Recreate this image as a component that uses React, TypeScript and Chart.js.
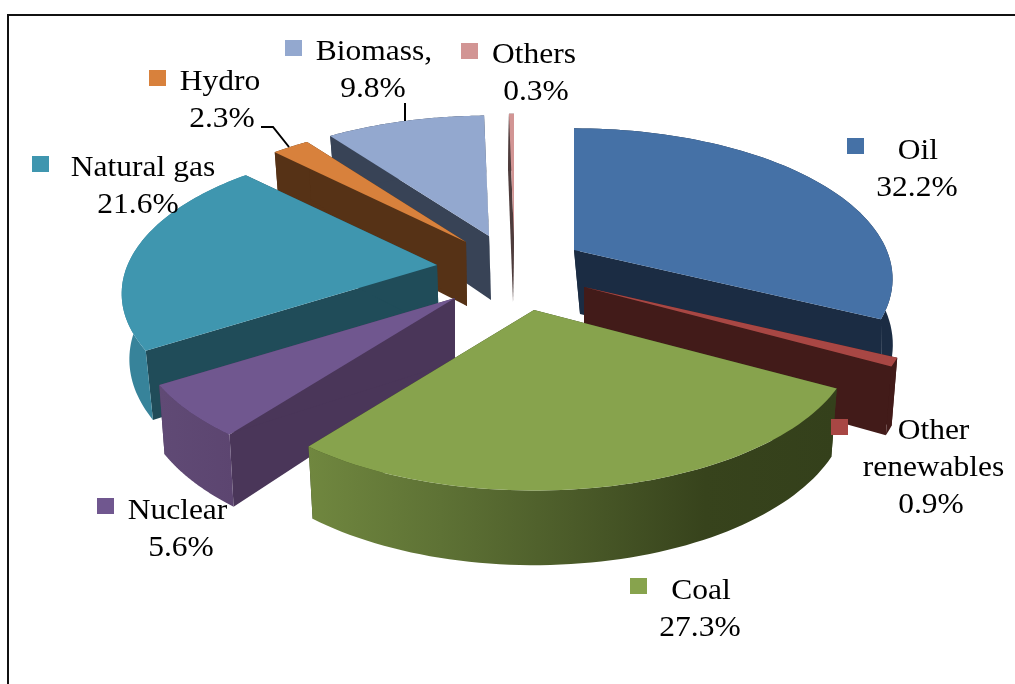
import React, { useEffect, useRef } from "react";
import { Chart, registerables } from "chart.js";

Chart.register(...registerables);

// Primary energy mix, share of total in percent.
const categories = ["Oil", "Other renewables", "Coal", "Nuclear", "Natural gas", "Hydro", "Biomass,", "Others"];
const shares = [32.2, 0.9, 27.3, 5.6, 21.6, 2.3, 9.8, 0.3];

// Face colours of each slice.
const topColors = ["#4571A6", "#A84744", "#87A34D", "#70578F", "#3F96AF", "#D8813C", "#93A8CF", "#D29594"];
const sideColors = ["#1B2C43", "#421B19", "#34401B", "#4A3659", "#204C59", "#563216", "#384356", "#4E3C3C"];
const rimStops = [
  ["#1B2C43"],
  ["#421B19"],
  ["#70873F", "#5E7235", "#4B5B29", "#37431C", "#34401B"],
  ["#604A75", "#5C4570"],
  ["#37839A"],
  ["#563216"],
  ["#384356"],
  ["#4E3C3C"],
];

// How far each slice is pulled away from the pie's hub, in pixels.
const explodeX = [66.5, 76.5, 26.5, -52.5, -70.5, -41.5, -18.5, 6.5];
const explodeY = [-92, -55, -32, -44, -77, -100, -106, -104];
const sliceScale = [0.98, 1, 0.985, 0.985, 0.97, 0.97, 0.97, 1];
const wallShift = [6, 0, 0, 0, 2, 1, 2, -1];

// Back-to-front painting order, as indexes into the slices.
const paintOrder = [7, 6, 5, 4, 0, 1, 3, 2];

// Label placement: centre x of the text, baselines, swatch corner.
const labelLines = [["Oil"], ["Other", "renewables"], ["Coal"], ["Nuclear"], ["Natural gas"], ["Hydro"], ["Biomass,"], ["Others"]];
const nameX = [918, 933.5, 701, 177.5, 143, 220, 374, 534];
const shareX = [917, 931, 700, 181, 138, 222, 373, 536];
const firstBaseline = [159, 439, 599, 519, 176, 90, 60, 63];
const swatchX = [847, 831, 630, 97, 32, 149, 285, 461];
const swatchY = [138, 419, 578, 498, 156, 70, 40, 43];

const RADIUS = 319;
const TILT = 0.464;
const PERSPECTIVE = 5.2;
const DEPTH = 64;
const FONT_PX = 30;
const TEXT_STRETCH = 1.05;
const LINE_GAP = 37;

function drawText(ctx: CanvasRenderingContext2D, text: string, cx: number, base: number) {
  ctx.save();
  ctx.translate(cx, base);
  ctx.scale(TEXT_STRETCH, 1);
  ctx.fillStyle = "#000";
  ctx.font = `${FONT_PX}px "Liberation Serif"`;
  ctx.textAlign = "center";
  ctx.textBaseline = "alphabetic";
  ctx.fillText(text, 0, 0);
  ctx.restore();
}

const framePlugin = {
  id: "frame",
  beforeDraw(chart: any) {
    const ctx = chart.ctx as CanvasRenderingContext2D;
    ctx.save();
    ctx.fillStyle = "#fff";
    ctx.fillRect(0, 0, chart.width, chart.height);
    ctx.strokeStyle = "#111";
    ctx.lineWidth = 2;
    ctx.beginPath();
    ctx.moveTo(8, chart.height);
    ctx.lineTo(8, 15);
    ctx.lineTo(chart.width, 15);
    ctx.stroke();
    ctx.restore();
  },
};

// Paints each arc of the pie as a tilted, extruded wedge in perspective.
const extrudedPie = {
  id: "extrudedPie",
  beforeDatasetDraw(chart: any) {
    const ctx = chart.ctx as CanvasRenderingContext2D;
    const arcs = chart.getDatasetMeta(0).data;

    paintOrder.forEach((i) => {
      const arc = arcs[i];
      const ax = arc.x + explodeX[i];
      const ay = arc.y + explodeY[i];
      const rx = arc.outerRadius * sliceScale[i];
      const ry = rx * TILT;

      const top = (theta: number, r: number) => {
        const fy = -Math.cos(theta) * r;
        const f = PERSPECTIVE / (PERSPECTIVE - fy);
        return { x: ax + Math.sin(theta) * r * rx * f, y: ay + fy * ry * f, f };
      };
      const low = (theta: number, r: number) => {
        const p = top(theta, r);
        return {
          x: ax + (p.x - ax) * 0.982 + wallShift[i],
          y: p.y + DEPTH * (1 + 0.7 * (p.f - 1)),
        };
      };

      const t0 = arc.startAngle + Math.PI / 2;
      const t1 = arc.endAngle + Math.PI / 2;
      const steps = 64;
      const angles: number[] = [];
      for (let s = 0; s <= steps; s++) angles.push(t0 + ((t1 - t0) * s) / steps);

      const poly = (pts: { x: number; y: number }[], fill: string | CanvasGradient) => {
        ctx.beginPath();
        pts.forEach((p, k) => (k ? ctx.lineTo(p.x, p.y) : ctx.moveTo(p.x, p.y)));
        ctx.closePath();
        ctx.fillStyle = fill;
        ctx.fill();
      };

      // Cut faces of the wedge.
      poly([top(t0, 0), top(t0, 1), low(t0, 1), low(t0, 0)], sideColors[i]);
      poly([top(t1, 0), top(t1, 1), low(t1, 1), low(t1, 0)], sideColors[i]);

      // Curved rim.
      const rim = [...angles.map((a) => top(a, 1)), ...angles.slice().reverse().map((a) => low(a, 1))];
      const xs = rim.map((p) => p.x);
      const minX = Math.min(...xs);
      const maxX = Math.max(...xs);
      const stops = rimStops[i];
      let rimFill: string | CanvasGradient = stops[0];
      if (stops.length > 1) {
        const g = ctx.createLinearGradient(minX, 0, maxX, 0);
        stops.forEach((c, k) => g.addColorStop(k / (stops.length - 1), c));
        rimFill = g;
      }
      poly(rim, rimFill);

      // Upper face.
      poly([top(t0, 0), ...angles.map((a) => top(a, 1))], arc.options.backgroundColor);
    });
    return false;
  },
  afterDatasetsDraw(chart: any) {
    const ctx = chart.ctx as CanvasRenderingContext2D;

    // Leader lines for the two labels set away from their slices.
    ctx.save();
    ctx.strokeStyle = "#000";
    ctx.lineWidth = 2;
    ctx.beginPath();
    ctx.moveTo(405, 103);
    ctx.lineTo(405, 121);
    ctx.moveTo(261, 127);
    ctx.lineTo(273, 127);
    ctx.lineTo(289, 147);
    ctx.stroke();
    ctx.restore();

    categories.forEach((_, i) => {
      ctx.fillStyle = topColors[i];
      ctx.fillRect(swatchX[i], swatchY[i], 17, 16);
      const lines = labelLines[i];
      lines.forEach((line, k) => drawText(ctx, line, nameX[i], firstBaseline[i] + k * LINE_GAP));
      drawText(ctx, `${shares[i].toFixed(1)}%`, shareX[i], firstBaseline[i] + lines.length * LINE_GAP);
    });
  },
};

export default function App() {
  const ref = useRef<HTMLCanvasElement>(null);
  useEffect(() => {
    document.body.style.margin = "0";
    const chart = new Chart(ref.current as HTMLCanvasElement, {
      type: "pie",
      data: {
        labels: categories,
        datasets: [{ data: shares, backgroundColor: topColors, borderWidth: 0 }],
      },
      options: {
        responsive: false,
        animation: false,
        radius: RADIUS,
        plugins: { legend: { display: false }, tooltip: { enabled: false } },
      } as any,
      plugins: [framePlugin, extrudedPie] as any,
    });
    return () => chart.destroy();
  }, []);
  return <canvas ref={ref} width={1015} height={684} style={{ display: "block" }} />;
}
